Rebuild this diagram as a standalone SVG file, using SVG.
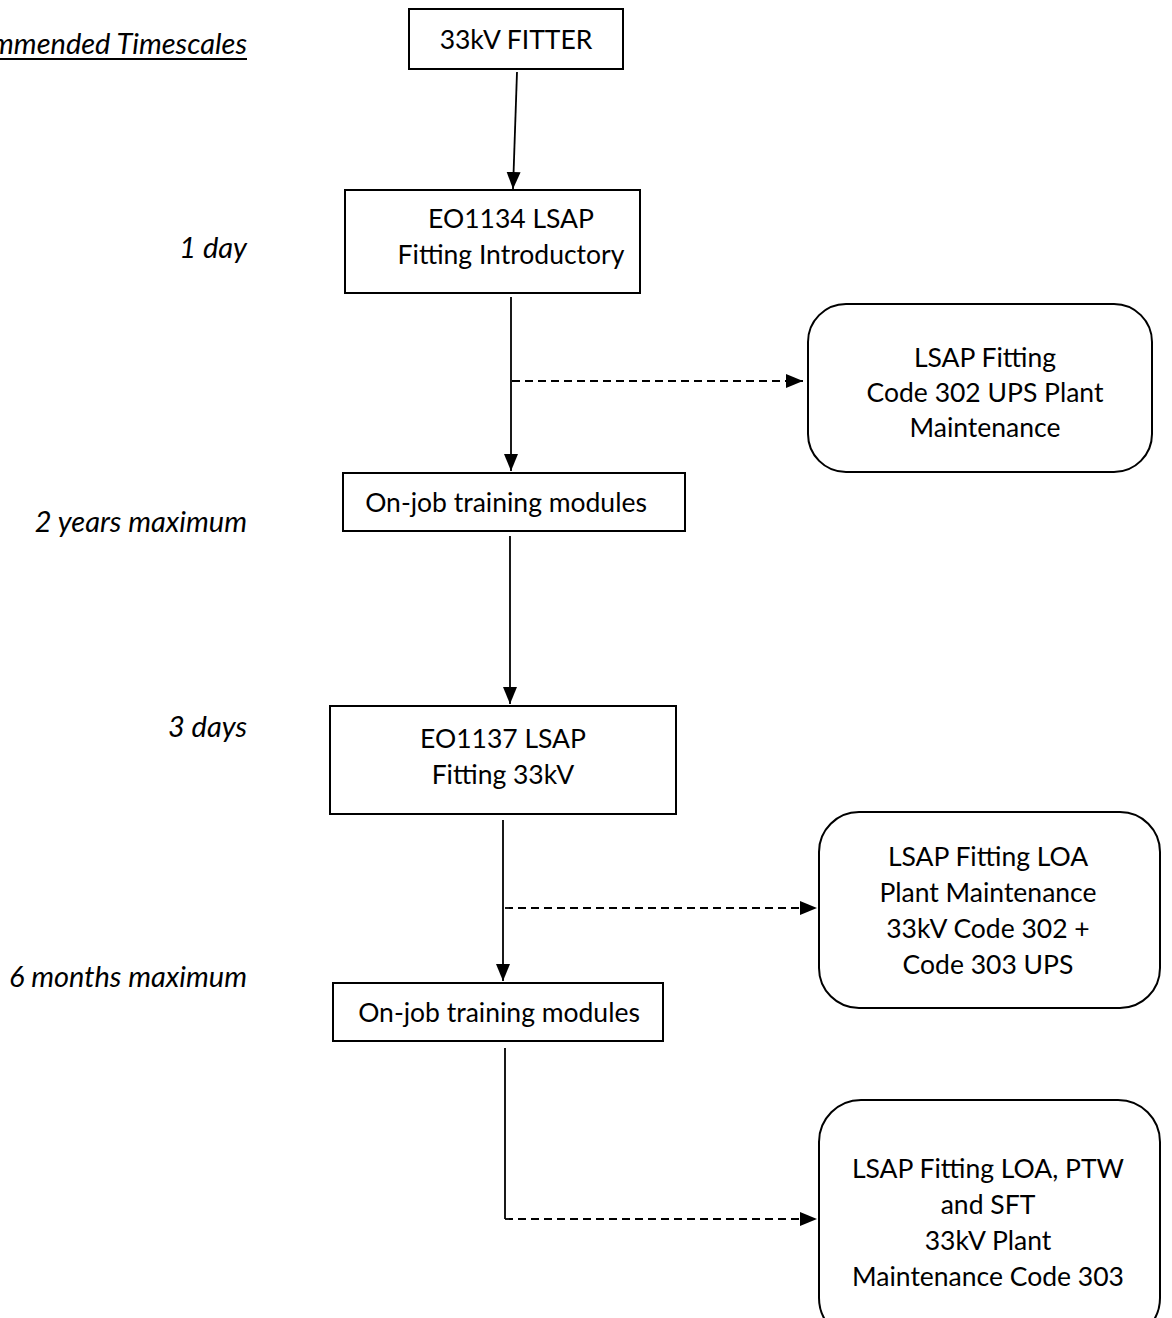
<svg xmlns="http://www.w3.org/2000/svg" width="1172" height="1318" viewBox="0 0 1172 1318">
<style>
.box{fill:#fff;stroke:#000;stroke-width:2}
.t{font-family:Lato,"Open Sans","Liberation Sans",sans-serif;font-size:26.5px;fill:#000;text-anchor:middle}
.lbl{font-family:Lato,"Open Sans","Liberation Sans",sans-serif;font-size:29px;font-style:italic;fill:#000;text-anchor:end}
.ln{fill:none;stroke:#000;stroke-width:1.8}
.dash{fill:none;stroke:#000;stroke-width:1.8;stroke-dasharray:8 5}
</style>
<defs>
<marker id="ah" markerUnits="userSpaceOnUse" markerWidth="18" markerHeight="18" viewBox="0 0 18 18" refX="17" refY="9" orient="auto">
<path d="M0,2 L17,9 L0,16 Z" fill="#000"/>
</marker>
</defs>
<rect width="1172" height="1318" fill="#fff"/>
<g id="labels">
<text class="lbl" x="247" y="54">Recommended Timescales</text>
<line x1="0" y1="59" x2="247" y2="59" stroke="#000" stroke-width="1.8"/>
<text class="lbl" x="247" y="258">1 day</text>
<text class="lbl" x="247" y="532">2 years maximum</text>
<text class="lbl" x="247" y="737">3 days</text>
<text class="lbl" x="247" y="987">6 months maximum</text>
</g>
<g id="connectors">
<line class="ln" x1="517" y1="72" x2="513" y2="189" marker-end="url(#ah)"/>
<line class="ln" x1="511" y1="297" x2="511" y2="471" marker-end="url(#ah)"/>
<line class="dash" x1="512" y1="381" x2="803" y2="381" marker-end="url(#ah)"/>
<line class="ln" x1="510" y1="536" x2="510" y2="704" marker-end="url(#ah)"/>
<line class="ln" x1="503" y1="820" x2="503" y2="981" marker-end="url(#ah)"/>
<line class="dash" x1="505" y1="908" x2="817" y2="908" marker-end="url(#ah)"/>
<polyline class="ln" points="505,1048 505,1219"/>
<line class="dash" x1="505" y1="1219" x2="817" y2="1219" marker-end="url(#ah)"/>
</g>
<g id="n-fitter">
<rect class="box" x="409" y="9" width="214" height="60"/>
<text class="t" x="516" y="49">33kV FITTER</text>
</g>
<g id="n-eo1134">
<rect class="box" x="345" y="190" width="295" height="103"/>
<text class="t" x="511" y="228">EO1134 LSAP</text>
<text class="t" x="511" y="264">Fitting Introductory</text>
</g>
<g id="n-code302">
<rect class="box" x="808" y="304" width="344" height="168" rx="38" ry="38"/>
<text class="t" x="985" y="367">LSAP Fitting</text>
<text class="t" x="985" y="402">Code 302 UPS Plant</text>
<text class="t" x="985" y="437">Maintenance</text>
</g>
<g id="n-ojt1">
<rect class="box" x="343" y="473" width="342" height="58"/>
<text class="t" x="506" y="512">On-job training modules</text>
</g>
<g id="n-eo1137">
<rect class="box" x="330" y="706" width="346" height="108"/>
<text class="t" x="503" y="748">EO1137 LSAP</text>
<text class="t" x="503" y="784">Fitting 33kV</text>
</g>
<g id="n-loa">
<rect class="box" x="819" y="812" width="341" height="196" rx="40" ry="40"/>
<text class="t" x="988" y="866">LSAP Fitting LOA</text>
<text class="t" x="988" y="902">Plant Maintenance</text>
<text class="t" x="988" y="938">33kV Code 302 +</text>
<text class="t" x="988" y="974">Code 303 UPS</text>
</g>
<g id="n-ojt2">
<rect class="box" x="333" y="983" width="330" height="58"/>
<text class="t" x="499" y="1022">On-job training modules</text>
</g>
<g id="n-ptw">
<rect class="box" x="819" y="1100" width="341" height="240" rx="42" ry="42"/>
<text class="t" x="988" y="1178">LSAP Fitting LOA, PTW</text>
<text class="t" x="988" y="1214">and SFT</text>
<text class="t" x="988" y="1250">33kV Plant</text>
<text class="t" x="988" y="1286">Maintenance Code 303</text>
</g>
</svg>
